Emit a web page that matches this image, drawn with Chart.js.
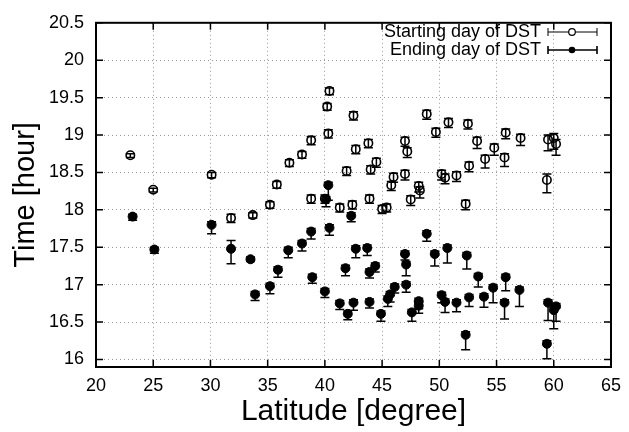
<!DOCTYPE html>
<html lang="en">
<head>
    <meta charset="UTF-8">
    <title>DST start / end time vs latitude</title>
    <style>
        body {
            margin: 0;
            padding: 0;
            background: #fff;
            overflow: hidden;
        }
        #wrap {
            width: 629px;
            height: 432px;
        }
    </style>
</head>
<body>
    <div id="wrap">
        <canvas id="dst-chart" width="629" height="432"></canvas>
    </div>

    <script src="https://cdn.jsdelivr.net/npm/chart.js"></script>
    <script>
        // tick values
        const xTicks = [20, 25, 30, 35, 40, 45, 50, 55, 60, 65];
        const yTicks = [16, 16.5, 17, 17.5, 18, 18.5, 19, 19.5, 20, 20.5];

        // Starting day of DST
        const startLat = [23.0, 25.0, 30.1, 31.8, 33.7, 35.2, 35.8, 36.9, 38.0, 38.8, 38.8, 40.0, 40.3, 40.2, 40.4, 41.3, 41.9, 42.4, 42.5, 42.7,
            43.8, 43.9, 44.0, 44.5, 45.0, 45.4, 45.8, 46.0, 47.0, 47.0, 47.2, 47.5, 48.2, 48.3, 48.9, 49.7, 50.2, 50.5, 50.8, 51.5,
            52.3, 52.5, 52.6, 53.3, 54.0, 54.8, 55.7, 55.8, 57.1, 59.4, 59.5, 60.0, 60.2];
        const startTime = [18.73, 18.27, 18.47, 17.89, 17.93, 18.07, 18.34, 18.63, 18.74, 18.93, 18.15, 18.15, 19.02, 19.38, 19.59, 18.03, 18.52, 18.07, 19.26, 18.81,
            18.89, 18.15, 18.54, 18.64, 18.01, 18.03, 18.33, 18.44, 18.48, 18.92, 18.78, 18.14, 18.32, 18.26, 19.28, 19.04, 18.48, 18.43, 19.17, 18.46,
            18.08, 19.15, 18.59, 18.92, 18.68, 18.83, 18.70, 19.03, 18.96, 18.40, 18.94, 18.96, 18.88];
        const startErrLo = [0.03, 0.03, 0.04, 0.06, 0.04, 0.05, 0.05, 0.05, 0.05, 0.06, 0.06, 0.06, 0.06, 0.05, 0.05, 0.06, 0.06, 0.06, 0.06, 0.06,
            0.06, 0.06, 0.06, 0.07, 0.06, 0.06, 0.07, 0.07, 0.08, 0.07, 0.08, 0.08, 0.08, 0.10, 0.07, 0.07, 0.08, 0.08, 0.07, 0.08,
            0.08, 0.07, 0.08, 0.10, 0.12, 0.10, 0.12, 0.08, 0.10, 0.17, 0.15, 0.15, 0.15];
        const startErrHi = [0.02, 0.02, 0.03, 0.05, 0.03, 0.04, 0.04, 0.04, 0.04, 0.05, 0.05, 0.05, 0.05, 0.04, 0.04, 0.05, 0.05, 0.05, 0.05, 0.05,
            0.05, 0.05, 0.05, 0.05, 0.05, 0.05, 0.05, 0.05, 0.05, 0.05, 0.05, 0.05, 0.05, 0.05, 0.05, 0.05, 0.05, 0.05, 0.05, 0.05,
            0.05, 0.05, 0.05, 0.05, 0.05, 0.05, 0.05, 0.05, 0.05, 0.08, 0.06, 0.06, 0.06];

        // Ending day of DST
        const endLat = [23.2, 25.1, 30.1, 31.8, 33.5, 33.9, 35.2, 35.9, 36.8, 38.0, 38.8, 38.9, 40.0, 40.3, 40.1, 40.4, 41.3, 41.8, 42.0, 42.3,
            42.5, 42.7, 43.7, 43.9, 43.9, 44.4, 44.9, 45.5, 45.7, 46.1, 47.0, 47.1, 47.1, 47.6, 48.2, 48.2, 48.9, 49.6, 50.2, 50.5,
            50.7, 51.5, 52.3, 52.4, 52.6, 53.4, 53.9, 54.7, 55.7, 55.8, 57.0, 59.4, 59.5, 60.2, 60.0];
        const endTime = [17.91, 17.47, 17.80, 17.48, 17.34, 16.87, 16.98, 17.20, 17.46, 17.55, 17.71, 17.10, 16.91, 18.33, 18.14, 17.76, 16.75, 17.22, 16.61, 17.92,
            16.76, 17.48, 17.49, 17.17, 16.77, 17.25, 16.61, 16.81, 16.87, 16.97, 17.41, 17.27, 17.00, 16.63, 16.78, 16.72, 17.68, 17.41, 16.86, 16.77,
            17.49, 16.76, 16.33, 17.39, 16.83, 17.11, 16.84, 16.96, 16.76, 17.10, 16.93, 16.21, 16.76, 16.71, 16.66];
        const endErrLo = [0.05, 0.05, 0.12, 0.20, 0.03, 0.08, 0.10, 0.10, 0.10, 0.10, 0.10, 0.08, 0.08, 0.20, 0.10, 0.10, 0.08, 0.10, 0.08, 0.08,
            0.10, 0.12, 0.10, 0.08, 0.08, 0.08, 0.10, 0.10, 0.10, 0.08, 0.08, 0.15, 0.10, 0.12, 0.10, 0.10, 0.10, 0.16, 0.10, 0.14,
            0.20, 0.12, 0.20, 0.18, 0.12, 0.14, 0.14, 0.20, 0.22, 0.18, 0.22, 0.20, 0.24, 0.20, 0.25];
        const endErrHi = [0.03, 0.03, 0.04, 0.11, 0.03, 0.04, 0.04, 0.04, 0.04, 0.04, 0.04, 0.04, 0.04, 0.04, 0.04, 0.04, 0.04, 0.04, 0.04, 0.04,
            0.04, 0.04, 0.04, 0.04, 0.04, 0.04, 0.04, 0.04, 0.04, 0.04, 0.04, 0.04, 0.04, 0.04, 0.04, 0.04, 0.04, 0.04, 0.04, 0.04,
            0.04, 0.04, 0.04, 0.04, 0.04, 0.04, 0.04, 0.04, 0.04, 0.04, 0.04, 0.04, 0.04, 0.04, 0.04];

        const FONT = '"Liberation Sans", Arial, sans-serif';

        function toPoints(xs, ys) {
            return xs.map((x, i) => ({ x: x, y: ys[i] }));
        }

        // vertical error bars with caps, drawn under the markers
        const errorBars = {
            id: 'errorBars',
            beforeDatasetsDraw(chart) {
                const ctx = chart.ctx;
                const ys = chart.scales.y;
                ctx.save();
                ctx.strokeStyle = '#000';
                ctx.lineWidth = 1.5;
                chart.data.datasets.forEach((ds, di) => {
                    const meta = chart.getDatasetMeta(di);
                    meta.data.forEach((pt, i) => {
                        const v = ds.data[i].y;
                        const yLo = ys.getPixelForValue(v - ds.errLo[i]);
                        const yHi = ys.getPixelForValue(v + ds.errHi[i]);
                        const px = pt.x;
                        ctx.beginPath();
                        ctx.moveTo(px, yLo);
                        ctx.lineTo(px, yHi);
                        ctx.moveTo(px - 4.5, yLo);
                        ctx.lineTo(px + 4.5, yLo);
                        ctx.moveTo(px - 4.5, yHi);
                        ctx.lineTo(px + 4.5, yHi);
                        ctx.stroke();
                    });
                });
                ctx.restore();
            }
        };

        // frame with inward ticks on all four sides + legend with error bar samples
        const frameAndKey = {
            id: 'frameAndKey',
            afterDraw(chart) {
                const ctx = chart.ctx;
                const a = chart.chartArea;
                const xs = chart.scales.x;
                const ys = chart.scales.y;
                const len = 7;
                ctx.save();
                ctx.strokeStyle = '#000';
                ctx.lineWidth = 1.5;
                xTicks.forEach(v => {
                    const px = xs.getPixelForValue(v);
                    ctx.beginPath();
                    ctx.moveTo(px, a.bottom);
                    ctx.lineTo(px, a.bottom - len);
                    ctx.moveTo(px, a.top);
                    ctx.lineTo(px, a.top + len);
                    ctx.stroke();
                });
                yTicks.forEach(v => {
                    const py = ys.getPixelForValue(v);
                    ctx.beginPath();
                    ctx.moveTo(a.left, py);
                    ctx.lineTo(a.left + len, py);
                    ctx.moveTo(a.right, py);
                    ctx.lineTo(a.right - len, py);
                    ctx.stroke();
                });
                ctx.lineWidth = 2;
                ctx.strokeRect(a.left, a.top, a.right - a.left, a.bottom - a.top);

                // key
                ctx.font = '18px ' + FONT;
                ctx.fillStyle = '#000';
                ctx.textAlign = 'right';
                ctx.textBaseline = 'middle';
                const rows = [32, 50];
                chart.data.datasets.forEach((ds, i) => {
                    const ty = rows[i];
                    ctx.fillText(ds.label, 541, ty);
                    const x0 = 548, x1 = 597, xm = 572;
                    ctx.lineWidth = i === 0 ? 1 : 1.6;
                    ctx.beginPath();
                    ctx.moveTo(x0, ty);
                    ctx.lineTo(x1, ty);
                    ctx.moveTo(x0, ty - 4);
                    ctx.lineTo(x0, ty + 4);
                    ctx.moveTo(x1, ty - 4);
                    ctx.lineTo(x1, ty + 4);
                    ctx.stroke();
                    ctx.beginPath();
                    ctx.arc(xm, ty, 3.3, 0, Math.PI * 2);
                    if (i === 0) {
                        ctx.fillStyle = '#fff';
                        ctx.fill();
                        ctx.lineWidth = 1.2;
                        ctx.stroke();
                        ctx.fillStyle = '#000';
                    } else {
                        ctx.fill();
                    }
                });
                ctx.restore();
            }
        };

        new Chart(document.getElementById('dst-chart'), {
            type: 'scatter',
            data: {
                datasets: [{
                    label: 'Starting day of DST',
                    data: toPoints(startLat, startTime),
                    errLo: startErrLo,
                    errHi: startErrHi,
                    pointStyle: 'circle',
                    pointRadius: 4.2,
                    pointBorderWidth: 1.6,
                    borderColor: '#000',
                    backgroundColor: 'rgba(0,0,0,0)'
                }, {
                    label: 'Ending day of DST',
                    data: toPoints(endLat, endTime),
                    errLo: endErrLo,
                    errHi: endErrHi,
                    pointStyle: 'circle',
                    pointRadius: 4.5,
                    pointBorderWidth: 1,
                    borderColor: '#000',
                    backgroundColor: '#000'
                }]
            },
            options: {
                responsive: false,
                animation: false,
                devicePixelRatio: 1,
                layout: { padding: { top: 13, right: 13, left: 0, bottom: 0 } },
                plugins: {
                    legend: { display: false },
                    tooltip: { enabled: false }
                },
                scales: {
                    x: {
                        type: 'linear',
                        min: 20,
                        max: 65,
                        afterBuildTicks: s => { s.ticks = xTicks.map(v => ({ value: v })); },
                        afterFit: s => { s.height = 65; },
                        grid: { color: '#999', lineWidth: 1, drawTicks: false },
                        border: { display: false, dash: [1, 3] },
                        ticks: {
                            color: '#000',
                            padding: 8,
                            font: { family: FONT, size: 18 },
                            maxRotation: 0,
                            callback: v => String(v)
                        },
                        title: {
                            display: true,
                            text: 'Latitude [degree]',
                            color: '#000',
                            font: { family: FONT, size: 30 },
                            padding: { top: 0, bottom: 2 }
                        }
                    },
                    y: {
                        type: 'linear',
                        min: 15.9,
                        max: 20.5,
                        afterBuildTicks: s => { s.ticks = yTicks.map(v => ({ value: v })); },
                        afterFit: s => { s.width = 96; },
                        grid: { color: '#999', lineWidth: 1, drawTicks: false },
                        border: { display: false, dash: [1, 3] },
                        ticks: {
                            color: '#000',
                            padding: 12,
                            font: { family: FONT, size: 18 },
                            callback: v => String(v)
                        },
                        title: {
                            display: true,
                            text: 'Time [hour]',
                            color: '#000',
                            font: { family: FONT, size: 29 },
                            padding: { top: 9, bottom: 0 }
                        }
                    }
                }
            },
            plugins: [errorBars, frameAndKey]
        });
    </script>
</body>
</html>
